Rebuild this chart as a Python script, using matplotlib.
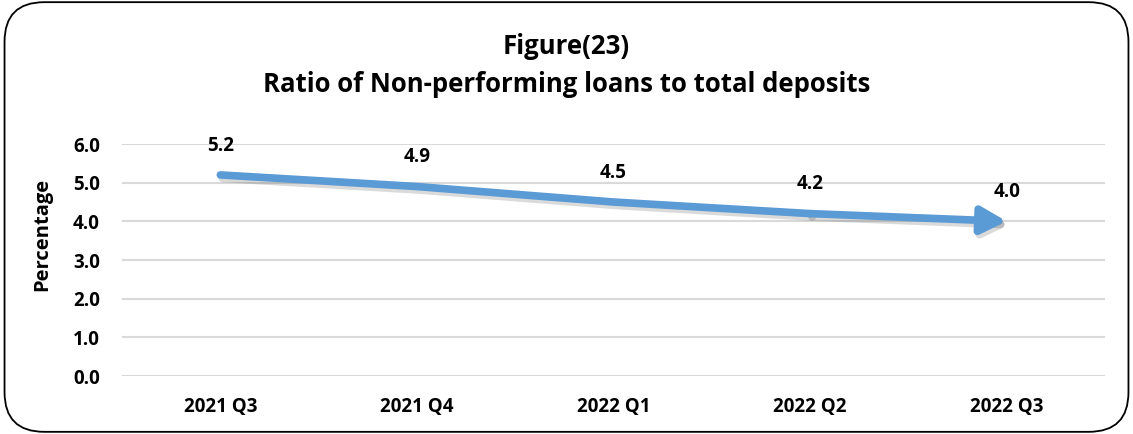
import numpy as np
from matplotlib import pyplot as plt
from matplotlib import patheffects as pe
from matplotlib.patches import FancyBboxPatch

quarters = ['2021 Q3', '2021 Q4', '2022 Q1', '2022 Q2', '2022 Q3']
ratio = [5.2, 4.9, 4.5, 4.2, 4.0]
yticks = [0.0, 1.0, 2.0, 3.0, 4.0, 5.0, 6.0]

plt.rcParams['font.family'] = ['Open Sans', 'DejaVu Sans']
plt.rcParams['font.weight'] = 'bold'

blue = '#5B9BD5'

fig = plt.figure(figsize=(11.33, 4.34), dpi=100)
ax = fig.add_axes([0.1077, 0.1336, 0.8676, 0.5346])

x = np.arange(len(quarters))
shadow = [pe.SimpleLineShadow(offset=(1.5, -2.5), alpha=0.18, shadow_color='#333333'), pe.Normal()]

# line up to the last segment, then the arrow head on the last one
ax.plot(x[:-1], ratio[:-1], color=blue, lw=5.5, solid_capstyle='round',
        path_effects=shadow, zorder=3)
ax.annotate('', xy=(x[-1], ratio[-1]), xytext=(x[-2], ratio[-2]),
            arrowprops=dict(arrowstyle='-|>,head_length=1.5,head_width=0.8',
                            color=blue, lw=5.5, shrinkA=0, shrinkB=0,
                            path_effects=shadow),
            zorder=3)

for xi, v in zip(x, ratio):
    ax.annotate(f'{v:.1f}', (xi, v), xytext=(0, 21), textcoords='offset points',
                ha='center', va='center', fontsize=13.5, fontweight='bold')

ax.set_xlim(-0.5, len(quarters) - 0.5)
ax.set_ylim(0, 6)
ax.set_yticks(yticks)
ax.set_yticklabels([f'{t:.1f}' for t in yticks], fontsize=13.5, fontweight='bold')
ax.set_xticks(x)
ax.set_xticklabels(quarters, fontsize=13.5, fontweight='bold')
ax.tick_params(length=0, pad=15, axis='x')
ax.tick_params(length=0, pad=16, axis='y')
ax.grid(axis='y', color='#D9D9D9', lw=1.5)
ax.set_axisbelow(True)
for s in ax.spines.values():
    s.set_visible(False)
ax.set_ylabel('Percentage', fontsize=14.5, fontweight='bold')
ax.yaxis.set_label_coords(-0.071, 0.61)

fig.text(0.5, 0.893, 'Figure(23)', ha='center', va='center', fontsize=18.5, fontweight='bold')
fig.text(0.5, 0.805, 'Ratio of Non-performing loans to total deposits', ha='center', va='center',
         fontsize=18.5, fontweight='bold')

border = FancyBboxPatch((0.004, 0.005), 0.992, 0.99, boxstyle='round,pad=0,rounding_size=0.035',
                        transform=fig.transFigure, fill=False, ec='black', lw=1.3,
                        mutation_aspect=1133 / 434)
fig.patches.append(border)

fig.savefig('out.png', dpi=100)
